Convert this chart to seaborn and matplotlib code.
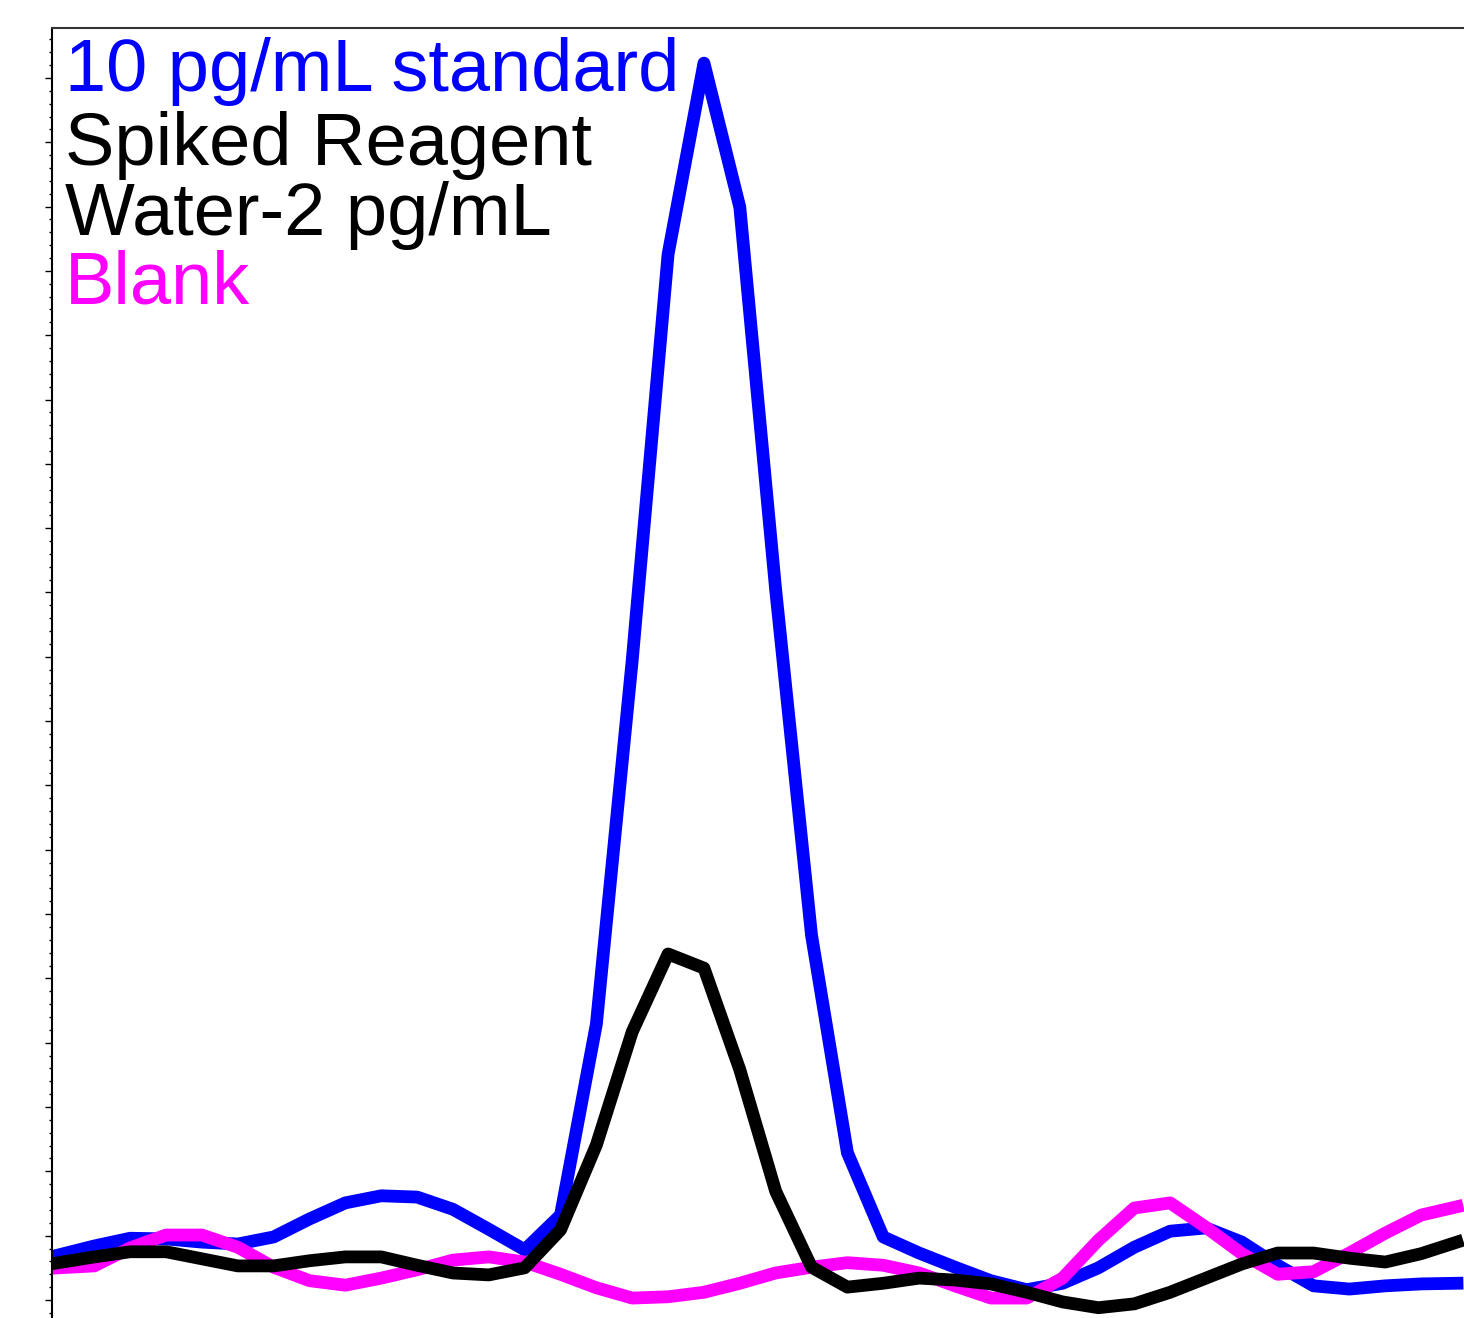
import matplotlib
matplotlib.use("Agg")
import matplotlib.pyplot as plt
from matplotlib.ticker import MultipleLocator, NullFormatter
import seaborn as sns
import pandas as pd
import numpy as np

# ---- data (arbitrary intensity units, 1 unit = one major tick) ----
scan_index = list(range(40))

standard_10pg = [0.70, 0.84, 0.96, 0.95, 0.90, 0.87, 0.98, 1.26, 1.51, 1.62,
                 1.60, 1.41, 1.10, 0.78, 1.32, 4.29, 9.95, 16.26, 19.23, 16.99,
                 11.04, 5.67, 2.29, 0.98, 0.73, 0.51, 0.30, 0.16, 0.26, 0.50,
                 0.82, 1.07, 1.12, 0.90, 0.54, 0.22, 0.17, 0.22, 0.25, 0.26]

spiked_water = [0.58, 0.67, 0.75, 0.75, 0.64, 0.53, 0.53, 0.61, 0.67, 0.67,
                0.54, 0.42, 0.39, 0.50, 1.09, 2.41, 4.17, 5.38, 5.16, 3.58,
                1.69, 0.51, 0.20, 0.26, 0.34, 0.31, 0.25, 0.12, -0.03, -0.12,
                -0.06, 0.12, 0.34, 0.56, 0.73, 0.73, 0.65, 0.59, 0.72, 0.90]

blank = [0.50, 0.53, 0.81, 1.01, 1.01, 0.82, 0.51, 0.30, 0.23, 0.34,
         0.47, 0.62, 0.67, 0.59, 0.40, 0.19, 0.03, 0.05, 0.12, 0.26,
         0.42, 0.51, 0.58, 0.54, 0.42, 0.22, 0.03, 0.03, 0.34, 0.93,
         1.43, 1.51, 1.13, 0.72, 0.40, 0.44, 0.73, 1.04, 1.32, 1.45]

series_names = ["10 pg/mL standard", "Blank", "Spiked Reagent Water-2 pg/mL"]
series_colors = ["#0000FF", "#FF00FF", "#000000"]

label_lines = ["10 pg/mL standard", "Spiked Reagent", "Water-2 pg/mL", "Blank"]
label_colors = ["#0000FF", "#000000", "#000000", "#FF00FF"]

df = pd.DataFrame({
    "scan": scan_index * 3,
    "intensity": standard_10pg + blank + spiked_water,
    "series": [series_names[0]] * 40 + [series_names[1]] * 40 + [series_names[2]] * 40,
})

# ---- figure ----
W, H, DPI = 1464, 1318, 100
sns.set_style("white")
plt.rcParams["font.family"] = ["Liberation Sans", "DejaVu Sans"]

fig = plt.figure(figsize=(W / DPI, H / DPI), dpi=DPI)
ax_left, ax_top = 52, 28
ax = fig.add_axes([ax_left / W, 0.0, (W - ax_left) / W, (H - ax_top) / H])

sns.lineplot(data=df, x="scan", y="intensity", hue="series",
             hue_order=series_names, palette=series_colors,
             linewidth=9.2, legend=False, ax=ax, sort=False)
for ln in ax.get_lines():
    ln.set_solid_capstyle("projecting")
    ln.set_solid_joinstyle("round")

ax.set_xlim(-0.181, 39.195)
ax.set_ylim(-0.28, 19.776)

ax.yaxis.set_major_locator(MultipleLocator(1.0))
ax.yaxis.set_minor_locator(MultipleLocator(0.2))
ax.yaxis.set_major_formatter(NullFormatter())
ax.tick_params(axis="y", which="major", left=True, length=5, width=1.0,
               color="black", direction="out")
ax.tick_params(axis="y", which="minor", left=True, length=2.2, width=1.0,
               color="black", direction="out")
ax.set_xticks([])
ax.set_xlabel("")
ax.set_ylabel("")

for side in ["right", "bottom"]:
    ax.spines[side].set_visible(False)
ax.spines["left"].set_color("black")
ax.spines["left"].set_linewidth(1.5)
ax.spines["top"].set_color("#333333")
ax.spines["top"].set_linewidth(1.5)

# labels stacked at top-left
baselines = [91, 165, 235, 303]
for txt, col, yb in zip(label_lines, label_colors, baselines):
    fig.text(65 / W, 1 - yb / H, txt, color=col, fontsize=53.3,
             ha="left", va="baseline")

fig.savefig("out.png", dpi=DPI, facecolor="white")
